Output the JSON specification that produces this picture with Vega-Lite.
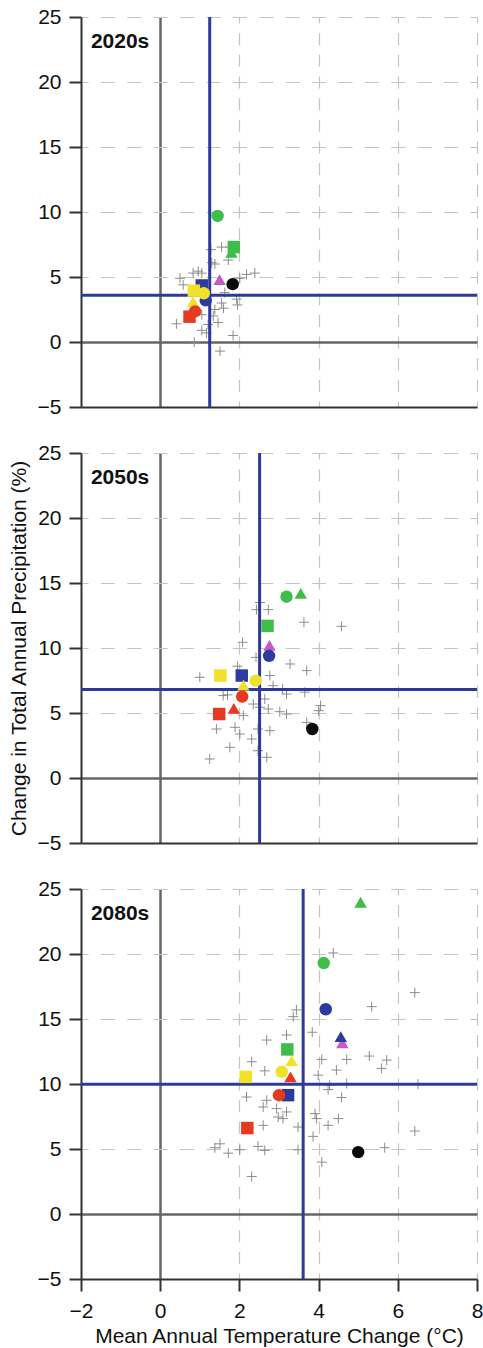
{
  "$schema": "https://vega.github.io/schema/vega-lite/v6.json",
  "padding": {"left": 8, "top": 6, "right": 5, "bottom": 5},
  "config": {"view": {"stroke": null}, "font": "Liberation Sans"},
  "data": {"values": [
    {"period": "2020s", "kind": "mean", "T": 1.25, "P": 3.6},
    {"period": "2020s", "kind": "gcm", "T": 1.28, "P": 7.1},
    {"period": "2020s", "kind": "gcm", "T": 1.55, "P": 7.3},
    {"period": "2020s", "kind": "gcm", "T": 1.76, "P": 7.3},
    {"period": "2020s", "kind": "gcm", "T": 1.72, "P": 6.3},
    {"period": "2020s", "kind": "gcm", "T": 1.3, "P": 6.1},
    {"period": "2020s", "kind": "gcm", "T": 1.38, "P": 6.0},
    {"period": "2020s", "kind": "gcm", "T": 0.5, "P": 4.9},
    {"period": "2020s", "kind": "gcm", "T": 0.83, "P": 5.3},
    {"period": "2020s", "kind": "gcm", "T": 1.05, "P": 5.3},
    {"period": "2020s", "kind": "gcm", "T": 0.96, "P": 5.45},
    {"period": "2020s", "kind": "gcm", "T": 2.18, "P": 5.2},
    {"period": "2020s", "kind": "gcm", "T": 2.39, "P": 5.3},
    {"period": "2020s", "kind": "gcm", "T": 2.01, "P": 4.9},
    {"period": "2020s", "kind": "gcm", "T": 0.58, "P": 4.4},
    {"period": "2020s", "kind": "gcm", "T": 1.63, "P": 3.8},
    {"period": "2020s", "kind": "gcm", "T": 1.55, "P": 3.0},
    {"period": "2020s", "kind": "gcm", "T": 1.6, "P": 2.6},
    {"period": "2020s", "kind": "gcm", "T": 1.38, "P": 2.5},
    {"period": "2020s", "kind": "gcm", "T": 1.93, "P": 3.3},
    {"period": "2020s", "kind": "gcm", "T": 1.95, "P": 2.85},
    {"period": "2020s", "kind": "gcm", "T": 1.34, "P": 2.0},
    {"period": "2020s", "kind": "gcm", "T": 1.05, "P": 2.1},
    {"period": "2020s", "kind": "gcm", "T": 0.41, "P": 1.4},
    {"period": "2020s", "kind": "gcm", "T": 1.46, "P": 1.5},
    {"period": "2020s", "kind": "gcm", "T": 1.21, "P": 1.35},
    {"period": "2020s", "kind": "gcm", "T": 1.05, "P": 0.9},
    {"period": "2020s", "kind": "gcm", "T": 1.17, "P": 0.7},
    {"period": "2020s", "kind": "gcm", "T": 1.84, "P": 0.5},
    {"period": "2020s", "kind": "gcm", "T": 0.86, "P": 0.0},
    {"period": "2020s", "kind": "gcm", "T": 1.51, "P": -0.7},
    {"period": "2020s", "kind": "rcm", "group": "M", "run": 3, "T": 1.5, "P": 4.8},
    {"period": "2020s", "kind": "rcm", "group": "B", "run": 2, "T": 1.05, "P": 4.35},
    {"period": "2020s", "kind": "rcm", "group": "B", "run": 1, "T": 1.15, "P": 3.2},
    {"period": "2020s", "kind": "rcm", "group": "Y", "run": 3, "T": 0.83, "P": 3.1},
    {"period": "2020s", "kind": "rcm", "group": "Y", "run": 2, "T": 0.85, "P": 3.95},
    {"period": "2020s", "kind": "rcm", "group": "Y", "run": 1, "T": 1.1, "P": 3.75},
    {"period": "2020s", "kind": "rcm", "group": "R", "run": 1, "T": 0.88, "P": 2.35},
    {"period": "2020s", "kind": "rcm", "group": "R", "run": 2, "T": 0.74, "P": 1.95},
    {"period": "2020s", "kind": "rcm", "group": "G", "run": 3, "T": 1.8, "P": 6.9},
    {"period": "2020s", "kind": "rcm", "group": "G", "run": 1, "T": 1.45, "P": 9.7},
    {"period": "2020s", "kind": "rcm", "group": "G", "run": 2, "T": 1.86, "P": 7.3},
    {"period": "2020s", "kind": "rcm", "group": "K", "run": 1, "T": 1.83, "P": 4.45},

    {"period": "2050s", "kind": "mean", "T": 2.51, "P": 6.8},
    {"period": "2050s", "kind": "gcm", "T": 2.52, "P": 13.5},
    {"period": "2050s", "kind": "gcm", "T": 2.73, "P": 12.95},
    {"period": "2050s", "kind": "gcm", "T": 2.43, "P": 12.95},
    {"period": "2050s", "kind": "gcm", "T": 3.63, "P": 11.98},
    {"period": "2050s", "kind": "gcm", "T": 4.58, "P": 11.67},
    {"period": "2050s", "kind": "gcm", "T": 2.08, "P": 10.44},
    {"period": "2050s", "kind": "gcm", "T": 2.42, "P": 9.28},
    {"period": "2050s", "kind": "gcm", "T": 3.28, "P": 8.77},
    {"period": "2050s", "kind": "gcm", "T": 3.7, "P": 8.26},
    {"period": "2050s", "kind": "gcm", "T": 1.0, "P": 7.75},
    {"period": "2050s", "kind": "gcm", "T": 2.77, "P": 7.88},
    {"period": "2050s", "kind": "gcm", "T": 2.85, "P": 7.1},
    {"period": "2050s", "kind": "gcm", "T": 3.09, "P": 6.85},
    {"period": "2050s", "kind": "gcm", "T": 3.19, "P": 6.46},
    {"period": "2050s", "kind": "gcm", "T": 3.65, "P": 6.6},
    {"period": "2050s", "kind": "gcm", "T": 1.59, "P": 6.34},
    {"period": "2050s", "kind": "gcm", "T": 1.7, "P": 6.4},
    {"period": "2050s", "kind": "gcm", "T": 2.64, "P": 6.08},
    {"period": "2050s", "kind": "gcm", "T": 2.35, "P": 5.69},
    {"period": "2050s", "kind": "gcm", "T": 2.52, "P": 5.44},
    {"period": "2050s", "kind": "gcm", "T": 2.73, "P": 5.31},
    {"period": "2050s", "kind": "gcm", "T": 3.02, "P": 5.1},
    {"period": "2050s", "kind": "gcm", "T": 3.19, "P": 4.92},
    {"period": "2050s", "kind": "gcm", "T": 4.05, "P": 5.57},
    {"period": "2050s", "kind": "gcm", "T": 4.0, "P": 5.18},
    {"period": "2050s", "kind": "gcm", "T": 2.1, "P": 4.8},
    {"period": "2050s", "kind": "gcm", "T": 3.7, "P": 4.28},
    {"period": "2050s", "kind": "gcm", "T": 1.42, "P": 3.77},
    {"period": "2050s", "kind": "gcm", "T": 1.89, "P": 3.9},
    {"period": "2050s", "kind": "gcm", "T": 2.01, "P": 3.38},
    {"period": "2050s", "kind": "gcm", "T": 2.47, "P": 3.77},
    {"period": "2050s", "kind": "gcm", "T": 2.77, "P": 3.64},
    {"period": "2050s", "kind": "gcm", "T": 2.31, "P": 3.0},
    {"period": "2050s", "kind": "gcm", "T": 1.76, "P": 2.36},
    {"period": "2050s", "kind": "gcm", "T": 2.47, "P": 2.1},
    {"period": "2050s", "kind": "gcm", "T": 1.25, "P": 1.46},
    {"period": "2050s", "kind": "gcm", "T": 2.69, "P": 1.59},
    {"period": "2050s", "kind": "gcm", "T": 1.95, "P": 8.6},
    {"period": "2050s", "kind": "rcm", "group": "M", "run": 3, "T": 2.76, "P": 10.2},
    {"period": "2050s", "kind": "rcm", "group": "B", "run": 1, "T": 2.75, "P": 9.4},
    {"period": "2050s", "kind": "rcm", "group": "B", "run": 2, "T": 2.06, "P": 7.88},
    {"period": "2050s", "kind": "rcm", "group": "Y", "run": 2, "T": 1.52, "P": 7.88},
    {"period": "2050s", "kind": "rcm", "group": "Y", "run": 1, "T": 2.41, "P": 7.49},
    {"period": "2050s", "kind": "rcm", "group": "Y", "run": 3, "T": 2.1, "P": 7.15},
    {"period": "2050s", "kind": "rcm", "group": "R", "run": 1, "T": 2.07, "P": 6.26},
    {"period": "2050s", "kind": "rcm", "group": "R", "run": 3, "T": 1.86, "P": 5.36},
    {"period": "2050s", "kind": "rcm", "group": "R", "run": 2, "T": 1.49, "P": 4.92},
    {"period": "2050s", "kind": "rcm", "group": "G", "run": 1, "T": 3.19, "P": 13.95},
    {"period": "2050s", "kind": "rcm", "group": "G", "run": 3, "T": 3.55, "P": 14.2},
    {"period": "2050s", "kind": "rcm", "group": "G", "run": 2, "T": 2.71, "P": 11.7},
    {"period": "2050s", "kind": "rcm", "group": "K", "run": 1, "T": 3.84, "P": 3.77},

    {"period": "2080s", "kind": "mean", "T": 3.61, "P": 9.98},
    {"period": "2080s", "kind": "gcm", "T": 4.37, "P": 20.08},
    {"period": "2080s", "kind": "gcm", "T": 6.43, "P": 17.03},
    {"period": "2080s", "kind": "gcm", "T": 5.34, "P": 15.95},
    {"period": "2080s", "kind": "gcm", "T": 3.44, "P": 15.7},
    {"period": "2080s", "kind": "gcm", "T": 3.36, "P": 15.18},
    {"period": "2080s", "kind": "gcm", "T": 3.84, "P": 13.98},
    {"period": "2080s", "kind": "gcm", "T": 3.19, "P": 13.77},
    {"period": "2080s", "kind": "gcm", "T": 2.69, "P": 13.38},
    {"period": "2080s", "kind": "gcm", "T": 5.28, "P": 12.15},
    {"period": "2080s", "kind": "gcm", "T": 5.72, "P": 11.84},
    {"period": "2080s", "kind": "gcm", "T": 5.59, "P": 11.2},
    {"period": "2080s", "kind": "gcm", "T": 4.08, "P": 11.89},
    {"period": "2080s", "kind": "gcm", "T": 4.71, "P": 11.89},
    {"period": "2080s", "kind": "gcm", "T": 4.45, "P": 11.07},
    {"period": "2080s", "kind": "gcm", "T": 3.99, "P": 10.68},
    {"period": "2080s", "kind": "gcm", "T": 2.31, "P": 11.71},
    {"period": "2080s", "kind": "gcm", "T": 2.64, "P": 11.01},
    {"period": "2080s", "kind": "gcm", "T": 6.51, "P": 9.98},
    {"period": "2080s", "kind": "gcm", "T": 4.24, "P": 9.57},
    {"period": "2080s", "kind": "gcm", "T": 4.28, "P": 9.9},
    {"period": "2080s", "kind": "gcm", "T": 4.71, "P": 10.04},
    {"period": "2080s", "kind": "gcm", "T": 4.58, "P": 8.96},
    {"period": "2080s", "kind": "gcm", "T": 2.18, "P": 9.0},
    {"period": "2080s", "kind": "gcm", "T": 2.69, "P": 8.75},
    {"period": "2080s", "kind": "gcm", "T": 2.6, "P": 8.23},
    {"period": "2080s", "kind": "gcm", "T": 2.94, "P": 8.11},
    {"period": "2080s", "kind": "gcm", "T": 3.19, "P": 7.85},
    {"period": "2080s", "kind": "gcm", "T": 2.98, "P": 7.46},
    {"period": "2080s", "kind": "gcm", "T": 3.1, "P": 7.34},
    {"period": "2080s", "kind": "gcm", "T": 3.91, "P": 7.72},
    {"period": "2080s", "kind": "gcm", "T": 3.95, "P": 7.34},
    {"period": "2080s", "kind": "gcm", "T": 4.5, "P": 7.34},
    {"period": "2080s", "kind": "gcm", "T": 3.48, "P": 6.69},
    {"period": "2080s", "kind": "gcm", "T": 4.24, "P": 6.82},
    {"period": "2080s", "kind": "gcm", "T": 2.6, "P": 6.82},
    {"period": "2080s", "kind": "gcm", "T": 3.86, "P": 5.97},
    {"period": "2080s", "kind": "gcm", "T": 6.43, "P": 6.38},
    {"period": "2080s", "kind": "gcm", "T": 1.51, "P": 5.4},
    {"period": "2080s", "kind": "gcm", "T": 1.38, "P": 5.1},
    {"period": "2080s", "kind": "gcm", "T": 1.72, "P": 4.68},
    {"period": "2080s", "kind": "gcm", "T": 2.01, "P": 4.94},
    {"period": "2080s", "kind": "gcm", "T": 2.47, "P": 5.2},
    {"period": "2080s", "kind": "gcm", "T": 2.64, "P": 4.89},
    {"period": "2080s", "kind": "gcm", "T": 3.48, "P": 4.94},
    {"period": "2080s", "kind": "gcm", "T": 5.67, "P": 5.1},
    {"period": "2080s", "kind": "gcm", "T": 4.08, "P": 3.99},
    {"period": "2080s", "kind": "gcm", "T": 2.31, "P": 2.88},
    {"period": "2080s", "kind": "rcm", "group": "M", "run": 3, "T": 4.6, "P": 13.17},
    {"period": "2080s", "kind": "rcm", "group": "B", "run": 1, "T": 4.18, "P": 15.75},
    {"period": "2080s", "kind": "rcm", "group": "B", "run": 3, "T": 4.56, "P": 13.64},
    {"period": "2080s", "kind": "rcm", "group": "B", "run": 2, "T": 3.23, "P": 9.14},
    {"period": "2080s", "kind": "rcm", "group": "Y", "run": 2, "T": 2.16, "P": 10.55},
    {"period": "2080s", "kind": "rcm", "group": "Y", "run": 1, "T": 3.07, "P": 10.94},
    {"period": "2080s", "kind": "rcm", "group": "Y", "run": 3, "T": 3.32, "P": 11.8},
    {"period": "2080s", "kind": "rcm", "group": "R", "run": 1, "T": 3.0, "P": 9.14},
    {"period": "2080s", "kind": "rcm", "group": "R", "run": 3, "T": 3.29, "P": 10.55},
    {"period": "2080s", "kind": "rcm", "group": "R", "run": 2, "T": 2.2, "P": 6.61},
    {"period": "2080s", "kind": "rcm", "group": "G", "run": 3, "T": 5.06, "P": 23.98},
    {"period": "2080s", "kind": "rcm", "group": "G", "run": 1, "T": 4.13, "P": 19.3},
    {"period": "2080s", "kind": "rcm", "group": "G", "run": 2, "T": 3.21, "P": 12.66},
    {"period": "2080s", "kind": "rcm", "group": "K", "run": 1, "T": 5.0, "P": 4.76}
  ]},
  "bounds": "flush",
  "spacing": 46,
  "vconcat": [
    {
      "width": 396, "height": 390,
      "transform": [{"filter": "datum.period === '2020s'"}],
      "layer": [
        {
          "transform": [{"filter": "datum.kind === 'gcm'"}],
          "mark": {"type": "point", "shape": "M-1,0H1M0,-1V1", "filled": false, "size": 100, "color": "#8c8c8c", "strokeWidth": 1, "opacity": 1},
          "encoding": {
            "x": {"field": "T", "type": "quantitative", "scale": {"domain": [-2, 8], "nice": false, "zero": false},
              "axis": {"title": null, "values": [-2, -1, 0, 1, 2, 3, 4, 5, 6, 7, 8], "labels": false, "ticks": false,
                "domainColor": "#333333", "domainWidth": 2, "grid": true,
                "gridColor": {"condition": {"test": "datum.value === 0", "value": "#666666"}, "value": "#c4c4c4"},
                "gridWidth": {"condition": {"test": "datum.value === 0", "value": 2.5}, "value": 1.2},
                "gridDash": {"condition": {"test": "datum.value === 0", "value": []}, "value": [12, 9.67]},
                "gridDashOffset": 6,
                "gridOpacity": {"condition": {"test": "datum.value % 2 !== 0 || datum.value === -2", "value": 0}, "value": 1}}},
            "y": {"field": "P", "type": "quantitative", "scale": {"domain": [-5, 25], "nice": false, "zero": false},
              "axis": {"title": null, "values": [-5, -2.5, 0, 2.5, 5, 7.5, 10, 12.5, 15, 17.5, 20, 22.5, 25],
                "labelExpr": "datum.value % 5 === 0 ? datum.label : ''", "labelOverlap": false, "labelFlush": false,
                "labelFont": "Liberation Sans", "labelFontSize": 21, "labelColor": "#111111", "labelPadding": 8,
                "tickSize": {"condition": {"test": "datum.value % 5 === 0", "value": 12}, "value": 6},
                "tickColor": "#333333", "tickWidth": 2, "domainColor": "#333333", "domainWidth": 2, "grid": true,
                "gridColor": {"condition": {"test": "datum.value === 0", "value": "#666666"}, "value": "#c4c4c4"},
                "gridWidth": {"condition": {"test": "datum.value === 0", "value": 2.5}, "value": 1.2},
                "gridDash": {"condition": {"test": "datum.value === 0", "value": []}, "value": [14, 12.4]},
                "gridDashOffset": 7,
                "gridOpacity": {"condition": {"test": "datum.value % 5 !== 0 || datum.value === -5", "value": 0}, "value": 1}}}
          }
        },
        {
          "transform": [{"filter": "datum.kind === 'mean'"}],
          "mark": {"type": "rule", "color": "#2b3a9b", "strokeWidth": 3},
          "encoding": {"x": {"field": "T", "type": "quantitative"}}
        },
        {
          "transform": [{"filter": "datum.kind === 'mean'"}],
          "mark": {"type": "rule", "color": "#2b3a9b", "strokeWidth": 3},
          "encoding": {"y": {"field": "P", "type": "quantitative"}}
        },
        {
          "transform": [{"filter": "datum.kind === 'rcm'"}],
          "mark": {"type": "point", "filled": true, "size": 155, "opacity": 1},
          "encoding": {
            "x": {"field": "T", "type": "quantitative"},
            "y": {"field": "P", "type": "quantitative"},
            "color": {"field": "group", "type": "nominal", "legend": null, "scale": {"domain": ["M", "B", "Y", "R", "G", "K"], "range": ["#c65bc8", "#2e3b9e", "#f2e12b", "#e6391f", "#3fbd4b", "#0a0a0a"]}},
            "shape": {"field": "run", "type": "nominal", "legend": null, "scale": {"domain": [1, 2, 3], "range": ["circle", "square", "triangle-up"]}}
          }
        },
        {
          "transform": [{"filter": "datum.kind === 'mean'"}],
          "mark": {"type": "text", "align": "left", "baseline": "alphabetic", "font": "Liberation Sans", "fontSize": 21, "fontWeight": "bold", "color": "#111111"},
          "encoding": {"x": {"datum": -1.75}, "y": {"datum": 22.6}, "text": {"field": "period"}}
        }
      ]
    },
    {
      "width": 396, "height": 390,
      "transform": [{"filter": "datum.period === '2050s'"}],
      "layer": [
        {
          "transform": [{"filter": "datum.kind === 'gcm'"}],
          "mark": {"type": "point", "shape": "M-1,0H1M0,-1V1", "filled": false, "size": 100, "color": "#8c8c8c", "strokeWidth": 1, "opacity": 1},
          "encoding": {
            "x": {"field": "T", "type": "quantitative", "scale": {"domain": [-2, 8], "nice": false, "zero": false},
              "axis": {"title": null, "values": [-2, -1, 0, 1, 2, 3, 4, 5, 6, 7, 8], "labels": false, "ticks": false,
                "domainColor": "#333333", "domainWidth": 2, "grid": true,
                "gridColor": {"condition": {"test": "datum.value === 0", "value": "#666666"}, "value": "#c4c4c4"},
                "gridWidth": {"condition": {"test": "datum.value === 0", "value": 2.5}, "value": 1.2},
                "gridDash": {"condition": {"test": "datum.value === 0", "value": []}, "value": [12, 9.67]},
                "gridDashOffset": 6,
                "gridOpacity": {"condition": {"test": "datum.value % 2 !== 0 || datum.value === -2", "value": 0}, "value": 1}}},
            "y": {"field": "P", "type": "quantitative", "scale": {"domain": [-5, 25], "nice": false, "zero": false},
              "axis": {"title": "Change in Total Annual Precipitation (%)", "values": [-5, -2.5, 0, 2.5, 5, 7.5, 10, 12.5, 15, 17.5, 20, 22.5, 25],
                "labelExpr": "datum.value % 5 === 0 ? datum.label : ''", "labelOverlap": false, "labelFlush": false,
                "labelFont": "Liberation Sans", "labelFontSize": 21, "labelColor": "#111111", "labelPadding": 8,
                "tickSize": {"condition": {"test": "datum.value % 5 === 0", "value": 12}, "value": 6},
                "tickColor": "#333333", "tickWidth": 2, "domainColor": "#333333", "domainWidth": 2, "grid": true,
                "gridColor": {"condition": {"test": "datum.value === 0", "value": "#666666"}, "value": "#c4c4c4"},
                "gridWidth": {"condition": {"test": "datum.value === 0", "value": 2.5}, "value": 1.2},
                "gridDash": {"condition": {"test": "datum.value === 0", "value": []}, "value": [14, 12.4]},
                "gridDashOffset": 7,
                "gridOpacity": {"condition": {"test": "datum.value % 5 !== 0 || datum.value === -5", "value": 0}, "value": 1},
                "titleFont": "Liberation Sans", "titleFontSize": 21, "titleFontWeight": "normal", "titleColor": "#111111", "titlePadding": 8}}
          }
        },
        {
          "transform": [{"filter": "datum.kind === 'mean'"}],
          "mark": {"type": "rule", "color": "#2b3a9b", "strokeWidth": 3},
          "encoding": {"x": {"field": "T", "type": "quantitative"}}
        },
        {
          "transform": [{"filter": "datum.kind === 'mean'"}],
          "mark": {"type": "rule", "color": "#2b3a9b", "strokeWidth": 3},
          "encoding": {"y": {"field": "P", "type": "quantitative"}}
        },
        {
          "transform": [{"filter": "datum.kind === 'rcm'"}],
          "mark": {"type": "point", "filled": true, "size": 155, "opacity": 1},
          "encoding": {
            "x": {"field": "T", "type": "quantitative"},
            "y": {"field": "P", "type": "quantitative"},
            "color": {"field": "group", "type": "nominal", "legend": null, "scale": {"domain": ["M", "B", "Y", "R", "G", "K"], "range": ["#c65bc8", "#2e3b9e", "#f2e12b", "#e6391f", "#3fbd4b", "#0a0a0a"]}},
            "shape": {"field": "run", "type": "nominal", "legend": null, "scale": {"domain": [1, 2, 3], "range": ["circle", "square", "triangle-up"]}}
          }
        },
        {
          "transform": [{"filter": "datum.kind === 'mean'"}],
          "mark": {"type": "text", "align": "left", "baseline": "alphabetic", "font": "Liberation Sans", "fontSize": 21, "fontWeight": "bold", "color": "#111111"},
          "encoding": {"x": {"datum": -1.75}, "y": {"datum": 22.6}, "text": {"field": "period"}}
        }
      ]
    },
    {
      "width": 396, "height": 390,
      "transform": [{"filter": "datum.period === '2080s'"}],
      "layer": [
        {
          "transform": [{"filter": "datum.kind === 'gcm'"}],
          "mark": {"type": "point", "shape": "M-1,0H1M0,-1V1", "filled": false, "size": 100, "color": "#8c8c8c", "strokeWidth": 1, "opacity": 1},
          "encoding": {
            "x": {"field": "T", "type": "quantitative", "scale": {"domain": [-2, 8], "nice": false, "zero": false},
              "axis": {"title": "Mean Annual Temperature Change (°C)", "values": [-2, -1, 0, 1, 2, 3, 4, 5, 6, 7, 8],
                "labelExpr": "datum.value % 2 === 0 ? datum.label : ''", "labelOverlap": false, "labelFlush": false,
                "labelFont": "Liberation Sans", "labelFontSize": 21, "labelColor": "#111111", "labelPadding": 9,
                "tickSize": {"condition": {"test": "datum.value % 2 === 0", "value": 12}, "value": 6},
                "tickColor": "#333333", "tickWidth": 2,
                "domainColor": "#333333", "domainWidth": 2, "grid": true,
                "gridColor": {"condition": {"test": "datum.value === 0", "value": "#666666"}, "value": "#c4c4c4"},
                "gridWidth": {"condition": {"test": "datum.value === 0", "value": 2.5}, "value": 1.2},
                "gridDash": {"condition": {"test": "datum.value === 0", "value": []}, "value": [12, 9.67]},
                "gridDashOffset": 6,
                "gridOpacity": {"condition": {"test": "datum.value % 2 !== 0 || datum.value === -2", "value": 0}, "value": 1},
                "titleFont": "Liberation Sans", "titleFontSize": 21, "titleFontWeight": "normal", "titleColor": "#111111", "titlePadding": 4}},
            "y": {"field": "P", "type": "quantitative", "scale": {"domain": [-5, 25], "nice": false, "zero": false},
              "axis": {"title": null, "values": [-5, -2.5, 0, 2.5, 5, 7.5, 10, 12.5, 15, 17.5, 20, 22.5, 25],
                "labelExpr": "datum.value % 5 === 0 ? datum.label : ''", "labelOverlap": false, "labelFlush": false,
                "labelFont": "Liberation Sans", "labelFontSize": 21, "labelColor": "#111111", "labelPadding": 8,
                "tickSize": {"condition": {"test": "datum.value % 5 === 0", "value": 12}, "value": 6},
                "tickColor": "#333333", "tickWidth": 2, "domainColor": "#333333", "domainWidth": 2, "grid": true,
                "gridColor": {"condition": {"test": "datum.value === 0", "value": "#666666"}, "value": "#c4c4c4"},
                "gridWidth": {"condition": {"test": "datum.value === 0", "value": 2.5}, "value": 1.2},
                "gridDash": {"condition": {"test": "datum.value === 0", "value": []}, "value": [14, 12.4]},
                "gridDashOffset": 7,
                "gridOpacity": {"condition": {"test": "datum.value % 5 !== 0 || datum.value === -5", "value": 0}, "value": 1}}}
          }
        },
        {
          "transform": [{"filter": "datum.kind === 'mean'"}],
          "mark": {"type": "rule", "color": "#2b3a9b", "strokeWidth": 3},
          "encoding": {"x": {"field": "T", "type": "quantitative"}}
        },
        {
          "transform": [{"filter": "datum.kind === 'mean'"}],
          "mark": {"type": "rule", "color": "#2b3a9b", "strokeWidth": 3},
          "encoding": {"y": {"field": "P", "type": "quantitative"}}
        },
        {
          "transform": [{"filter": "datum.kind === 'rcm'"}],
          "mark": {"type": "point", "filled": true, "size": 155, "opacity": 1},
          "encoding": {
            "x": {"field": "T", "type": "quantitative"},
            "y": {"field": "P", "type": "quantitative"},
            "color": {"field": "group", "type": "nominal", "legend": null, "scale": {"domain": ["M", "B", "Y", "R", "G", "K"], "range": ["#c65bc8", "#2e3b9e", "#f2e12b", "#e6391f", "#3fbd4b", "#0a0a0a"]}},
            "shape": {"field": "run", "type": "nominal", "legend": null, "scale": {"domain": [1, 2, 3], "range": ["circle", "square", "triangle-up"]}}
          }
        },
        {
          "transform": [{"filter": "datum.kind === 'mean'"}],
          "mark": {"type": "text", "align": "left", "baseline": "alphabetic", "font": "Liberation Sans", "fontSize": 21, "fontWeight": "bold", "color": "#111111"},
          "encoding": {"x": {"datum": -1.75}, "y": {"datum": 22.6}, "text": {"field": "period"}}
        }
      ]
    }
  ]
}
